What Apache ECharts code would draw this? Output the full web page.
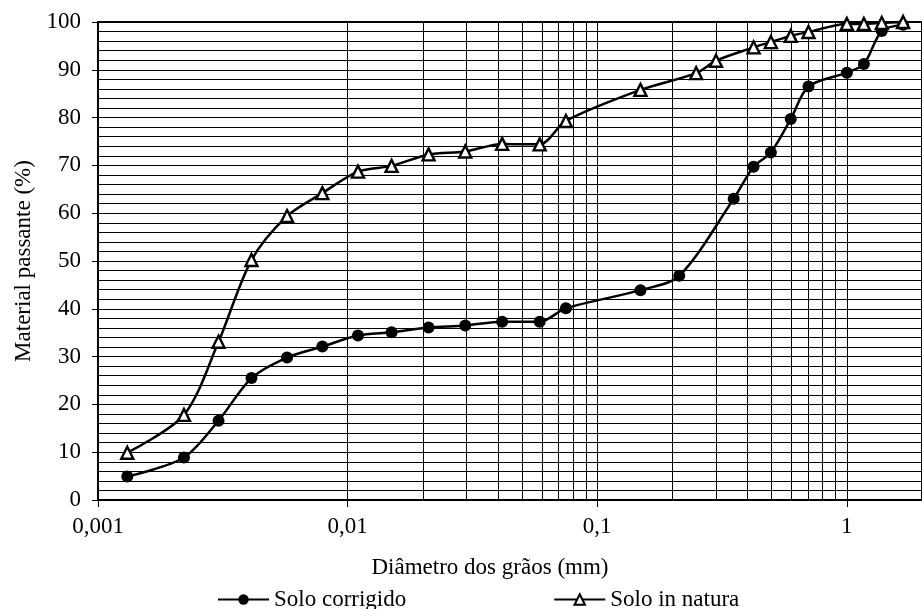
<!DOCTYPE html>
<html>
<head>
<meta charset="utf-8">
<script src="https://cdn.jsdelivr.net/npm/echarts@6/dist/echarts.min.js"></script>
<style>
  html, body { margin: 0; padding: 0; background: #fff; }
  #chart { width: 922px; height: 609px; }
</style>
</head>
<body>
<div id="chart"></div>
<script>
// Grain-size distribution curves (log-scale diameter vs. percent passing)

const corrigidoDiam = [0.00131, 0.00221, 0.00304, 0.00412, 0.00572, 0.00792, 0.0110, 0.0150,
  0.0211, 0.0296, 0.0416, 0.0588, 0.0749, 0.149, 0.213, 0.352, 0.423, 0.496, 0.596, 0.702,
  1.0, 1.17, 1.38, 1.68];
const corrigidoPass = [4.9, 8.9, 16.6, 25.5, 29.8, 32.1, 34.4, 35.1,
  36.1, 36.5, 37.3, 37.3, 40.1, 43.9, 46.9, 63.0, 69.7, 72.7, 79.7, 86.5,
  89.4, 91.2, 98.1, 99.4];

const naturaDiam = [0.00131, 0.00221, 0.00304, 0.00412, 0.00572, 0.00792, 0.0110, 0.0150,
  0.0211, 0.0296, 0.0416, 0.0588, 0.0749, 0.149, 0.249, 0.299, 0.423, 0.496, 0.596, 0.702,
  1.0, 1.17, 1.38, 1.68];
const naturaPass = [9.9, 17.8, 33.1, 50.2, 59.4, 64.2, 68.7, 69.9,
  72.3, 72.9, 74.5, 74.4, 79.3, 85.8, 89.3, 91.9, 94.7, 95.8, 97.1, 97.9,
  99.6, 99.6, 99.8, 100];

const seriesNames = ['Solo corrigido', 'Solo in natura'];

// decade tick labels (decimal comma)
const decadeTicks = [0.001, 0.01, 0.1, 1];
const decadeLabels = ['0,001', '0,01', '0,1', '1'];

// intermediate log gridlines (2..9 within each decade)
const minorGridX = [];
decadeTicks.forEach(function (d) {
  for (let k = 2; k <= 9; k++) {
    if (k * d < 2) minorGridX.push(+(k * d).toPrecision(3));
  }
});

const FONT = '"Liberation Serif", "Times New Roman", serif';
const GRID_COLOR = '#000';

function pairs(xs, ys) {
  return xs.map(function (x, i) { return [x, ys[i]]; });
}

const chart = echarts.init(document.getElementById('chart'), null, { renderer: 'canvas' });

chart.setOption({
  animation: false,
  backgroundColor: '#ffffff',
  textStyle: { fontFamily: FONT, color: '#000' },
  grid: {
    left: 98, top: 22, right: -5, bottom: 109,
    show: true, borderColor: '#000', borderWidth: 2, backgroundColor: 'transparent'
  },
  legend: {
    data: seriesNames,
    left: 212, top: 583,
    itemWidth: 51, itemHeight: 13, itemGap: 147,
    textStyle: { fontFamily: FONT, fontSize: 23, color: '#000' }
  },
  xAxis: {
    type: 'log', logBase: 10, min: 0.001, max: 2,
    name: 'Diâmetro dos grãos (mm)',
    nameLocation: 'middle', nameGap: 56,
    nameTextStyle: { fontFamily: FONT, fontSize: 23, color: '#000', padding: [0, 40, 0, 0] },
    axisLine: { show: true, lineStyle: { color: '#000', width: 2 } },
    axisTick: { show: true, length: 7, lineStyle: { color: '#000', width: 1 } },
    axisLabel: {
      fontFamily: FONT, fontSize: 23, color: '#000', margin: 15,
      showMaxLabel: false,
      formatter: function (v) {
        const lg = Math.log10(v);
        const e = Math.round(lg);
        if (Math.abs(lg - e) > 1e-6) return '';
        const idx = decadeTicks.findIndex(function (t) { return Math.abs(Math.log10(t) - e) < 1e-6; });
        return idx >= 0 ? decadeLabels[idx] : '';
      }
    },
    splitLine: { show: true, lineStyle: { color: GRID_COLOR, width: 1 } },
    minorTick: { show: false },
    minorSplitLine: { show: false }
  },
  yAxis: {
    type: 'value', min: 0, max: 100, interval: 10,
    name: 'Material passante (%)',
    nameLocation: 'middle', nameGap: 62, nameRotate: 90,
    nameTextStyle: { fontFamily: FONT, fontSize: 23, color: '#000' },
    axisLine: { show: true, lineStyle: { color: '#000', width: 2 } },
    axisTick: { show: true, length: 6, lineStyle: { color: '#000', width: 1 } },
    axisLabel: { fontFamily: FONT, fontSize: 23, color: '#000', margin: 17 },
    splitLine: { show: true, lineStyle: { color: GRID_COLOR, width: 1 } },
    minorTick: { show: false, splitNumber: 5 },
    minorSplitLine: { show: true, lineStyle: { color: GRID_COLOR, width: 1 } }
  },
  series: [
    {
      name: 'loggrid',
      type: 'line',
      data: [],
      silent: true,
      z: 1,
      markLine: {
        silent: true,
        animation: false,
        symbol: ['none', 'none'],
        label: { show: false },
        emphasis: { disabled: true },
        lineStyle: { color: GRID_COLOR, width: 1, type: 'solid' },
        data: minorGridX.map(function (v) { return { xAxis: v }; })
      }
    },
    {
      name: seriesNames[0],
      type: 'line',
      z: 5,
      smooth: 0.3,
      data: pairs(corrigidoDiam, corrigidoPass),
      symbol: 'circle',
      symbolSize: 12,
      itemStyle: { color: '#000', borderColor: '#000', borderWidth: 0 },
      lineStyle: { color: '#000', width: 2.5 },
      emphasis: { disabled: true }
    },
    {
      name: seriesNames[1],
      type: 'line',
      z: 5,
      smooth: 0.3,
      data: pairs(naturaDiam, naturaPass),
      symbol: 'triangle',
      symbolSize: 12,
      itemStyle: { color: '#fff', borderColor: '#000', borderWidth: 2.4 },
      lineStyle: { color: '#000', width: 2.5 },
      emphasis: { disabled: true }
    }
  ]
});
</script>
</body>
</html>
